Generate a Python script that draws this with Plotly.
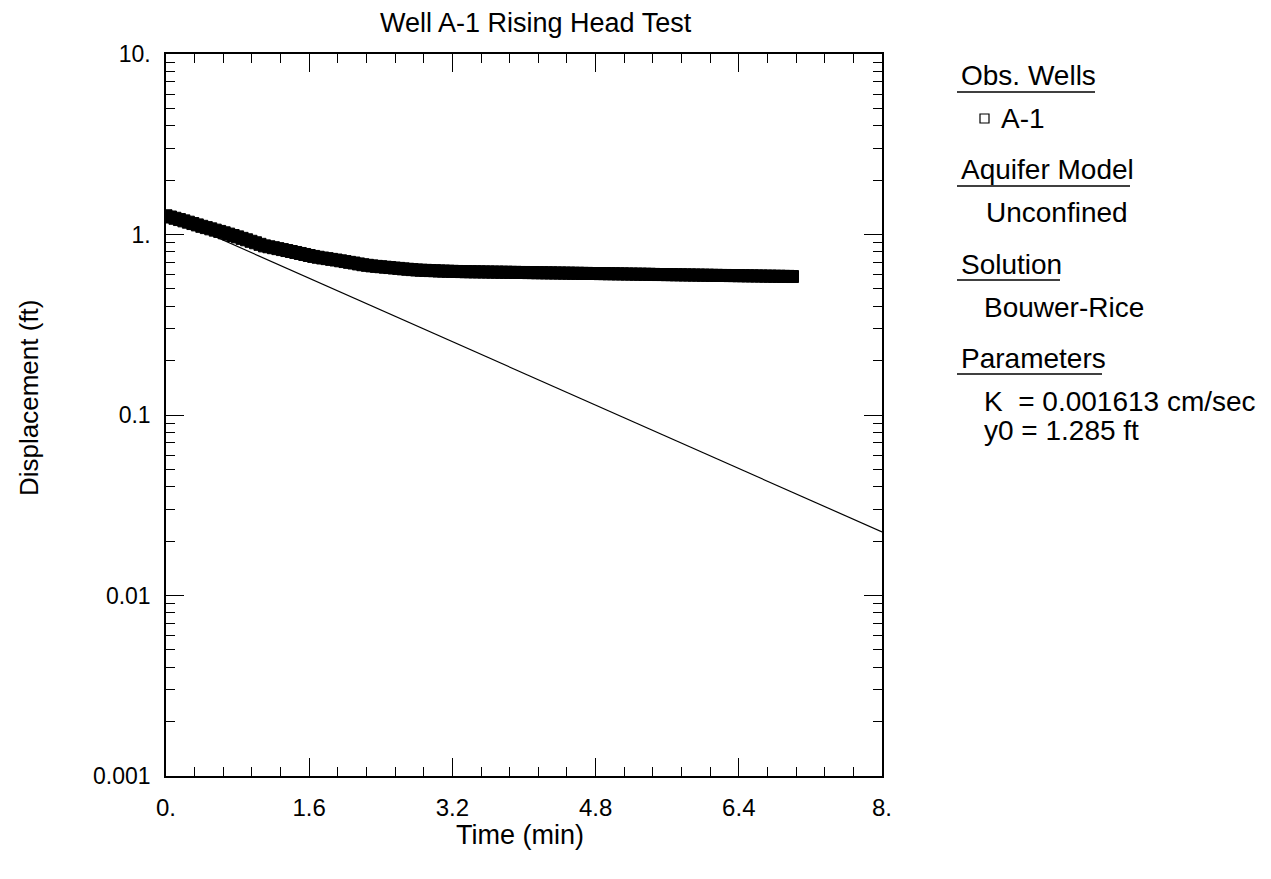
import plotly.graph_objects as go

# ---------------- data ----------------
time_min = [
    0.00, 0.05, 0.10, 0.15, 0.20, 0.25, 0.30, 0.35, 0.40, 0.45,
    0.50, 0.55, 0.60, 0.65, 0.70, 0.75, 0.80, 0.85, 0.90, 0.95,
    1.00, 1.05, 1.10, 1.15, 1.20, 1.25, 1.30, 1.35, 1.40, 1.45,
    1.50, 1.55, 1.60, 1.65, 1.70, 1.75, 1.80, 1.85, 1.90, 1.95,
    2.00, 2.05, 2.10, 2.15, 2.20, 2.25, 2.30, 2.35, 2.40, 2.45,
    2.50, 2.55, 2.60, 2.65, 2.70, 2.75, 2.80, 2.85, 2.90, 2.95,
    3.00, 3.05, 3.10, 3.15, 3.20, 3.25, 3.30, 3.35, 3.40, 3.45,
    3.50, 3.55, 3.60, 3.65, 3.70, 3.75, 3.80, 3.85, 3.90, 3.95,
    4.00, 4.05, 4.10, 4.15, 4.20, 4.25, 4.30, 4.35, 4.40, 4.45,
    4.50, 4.55, 4.60, 4.65, 4.70, 4.75, 4.80, 4.85, 4.90, 4.95,
    5.00, 5.05, 5.10, 5.15, 5.20, 5.25, 5.30, 5.35, 5.40, 5.45,
    5.50, 5.55, 5.60, 5.65, 5.70, 5.75, 5.80, 5.85, 5.90, 5.95,
    6.00, 6.05, 6.10, 6.15, 6.20, 6.25, 6.30, 6.35, 6.40, 6.45,
    6.50, 6.55, 6.60, 6.65, 6.70, 6.75, 6.80, 6.85, 6.90, 6.95,
    7.00]
displacement_ft = [
    1.270, 1.250, 1.230, 1.210, 1.190, 1.170, 1.150, 1.130, 1.110, 1.092,
    1.075, 1.057, 1.040, 1.022, 1.005, 0.987, 0.970, 0.952, 0.935, 0.917,
    0.900, 0.882, 0.865, 0.855, 0.845, 0.835, 0.825, 0.815, 0.805, 0.795,
    0.785, 0.775, 0.765, 0.756, 0.748, 0.741, 0.735, 0.728, 0.722, 0.715,
    0.708, 0.701, 0.695, 0.687, 0.680, 0.675, 0.670, 0.666, 0.663, 0.659,
    0.656, 0.652, 0.649, 0.645, 0.642, 0.639, 0.636, 0.634, 0.633, 0.631,
    0.630, 0.628, 0.627, 0.626, 0.625, 0.624, 0.623, 0.622, 0.622, 0.621,
    0.621, 0.620, 0.620, 0.619, 0.619, 0.618, 0.618, 0.617, 0.617, 0.616,
    0.616, 0.615, 0.615, 0.614, 0.614, 0.613, 0.613, 0.612, 0.612, 0.611,
    0.611, 0.610, 0.610, 0.609, 0.609, 0.608, 0.608, 0.607, 0.607, 0.606,
    0.606, 0.605, 0.605, 0.604, 0.604, 0.603, 0.603, 0.602, 0.602, 0.601,
    0.600, 0.600, 0.599, 0.599, 0.598, 0.598, 0.597, 0.597, 0.596, 0.596,
    0.595, 0.595, 0.594, 0.594, 0.593, 0.593, 0.592, 0.592, 0.591, 0.591,
    0.590, 0.590, 0.589, 0.589, 0.588, 0.588, 0.587, 0.587, 0.586, 0.586,
    0.585]

fit_time = [0.0, 8.0]
fit_disp = [1.285, 0.0225]

x_tickvals = [0, 1.6, 3.2, 4.8, 6.4, 8]
x_ticktext = ["0.", "1.6", "3.2", "4.8", "6.4", "8."]
x_minor = [0.32, 0.64, 0.96, 1.28, 1.92, 2.24, 2.56, 2.88, 3.52, 3.84, 4.16, 4.48,
           5.12, 5.44, 5.76, 6.08, 6.72, 7.04, 7.36, 7.68]

y_tickvals = [0.001, 0.01, 0.1, 1, 10]
y_ticktext = ["0.001", "0.01", "0.1", "1.", "10."]
y_minor = [m * d for d in [0.001, 0.01, 0.1, 1] for m in range(2, 10)]

title_text = "Well A-1 Rising Head Test"
x_title = "Time (min)"
y_title = "Displacement (ft)"

legend_headers = ["Obs. Wells", "Aquifer Model", "Solution", "Parameters"]
legend_items = ["A-1", "Unconfined", "Bouwer-Rice", "K\u00a0 = 0.001613 cm/sec", "y0 = 1.285 ft"]

# ---------------- layout geometry (page pixel coords) ----------------
BODY = 8                      # default browser body margin
W, H = 1271 - 2 * BODY, 879 - 2 * BODY
L, R, T, B = 166, 882, 54, 776
FONT = "Liberation Sans, Arial, sans-serif"


def px(xp):
    return (xp - L) / (R - L)


def py(yp):
    return (B - yp) / (B - T)


fig = go.Figure()
fig.add_trace(go.Scatter(
    x=fit_time, y=fit_disp, mode="lines",
    line=dict(color="black", width=1.2), showlegend=False, hoverinfo="skip"))
fig.add_trace(go.Scatter(
    x=time_min, y=displacement_ft, mode="markers",
    marker=dict(symbol="square", size=12, color="black",
                line=dict(color="black", width=1)),
    showlegend=False, name="A-1"))

axis_common = dict(
    showline=True, linecolor="black", linewidth=1.5, mirror="allticks",
    ticks="inside", ticklen=18, tickwidth=1.2, tickcolor="black",
    showgrid=False, zeroline=False,
)

fig.update_xaxes(
    range=[0, 8], tickmode="array", tickvals=x_tickvals, ticktext=x_ticktext,
    minor=dict(tickmode="array", tickvals=x_minor, ticks="inside", ticklen=9,
               tickwidth=1.2, tickcolor="black", showgrid=False),
    ticklabelstandoff=9,
    tickfont=dict(family=FONT, size=24, color="black"),
    **axis_common)
fig.update_yaxes(
    type="log", range=[-3, 1], tickmode="array", tickvals=y_tickvals, ticktext=y_ticktext,
    minor=dict(tickmode="array", tickvals=y_minor, ticks="inside", ticklen=9,
               tickwidth=1.2, tickcolor="black", showgrid=False),
    ticklabelstandoff=9,
    tickfont=dict(family=FONT, size=23, color="black"),
    **axis_common)

annotations = []
shapes = []

TXT = 28
annotations.append(dict(text=title_text, x=px(536), y=py(23), xref="paper", yref="paper",
                        showarrow=False, xanchor="center", yanchor="middle",
                        font=dict(family=FONT, size=27, color="black")))
annotations.append(dict(text=x_title, x=px(520), y=py(835), xref="paper", yref="paper",
                        showarrow=False, xanchor="center", yanchor="middle",
                        font=dict(family=FONT, size=27, color="black")))
annotations.append(dict(text=y_title, x=px(29), y=py(398), xref="paper", yref="paper",
                        showarrow=False, xanchor="center", yanchor="middle", textangle=-90,
                        font=dict(family=FONT, size=26, color="black")))

header_pos = [(959, 75, 1095, 92), (959, 169, 1130, 186), (959, 264, 1060, 280), (959, 358, 1102, 374)]
for txt, (x0, yc, x1, yu) in zip(legend_headers, header_pos):
    annotations.append(dict(text=txt, x=px(x0), y=py(yc), xref="paper", yref="paper",
                            showarrow=False, xanchor="left", yanchor="middle",
                            font=dict(family=FONT, size=TXT, color="black")))
    shapes.append(dict(type="line", xref="paper", yref="paper",
                       x0=px(957), x1=px(x1), y0=py(yu), y1=py(yu),
                       line=dict(color="black", width=1.5)))

item_pos = [(999, 118), (984, 212), (982, 307), (982, 401), (982, 430)]
for txt, (x0, yc) in zip(legend_items, item_pos):
    annotations.append(dict(text=txt, x=px(x0), y=py(yc), xref="paper", yref="paper",
                            showarrow=False, xanchor="left", yanchor="middle",
                            font=dict(family=FONT, size=TXT, color="black")))

shapes.append(dict(type="rect", xref="paper", yref="paper",
                   x0=px(980), x1=px(989), y0=py(114), y1=py(123),
                   line=dict(color="black", width=1.2), fillcolor="white"))

fig.update_layout(
    width=W, height=H,
    margin=dict(l=L - BODY, r=(W + BODY) - R, t=T - BODY, b=(H + BODY) - B, pad=0),
    paper_bgcolor="white", plot_bgcolor="white",
    annotations=annotations, shapes=shapes,
    showlegend=False,
)

fig.write_html("out.html")
